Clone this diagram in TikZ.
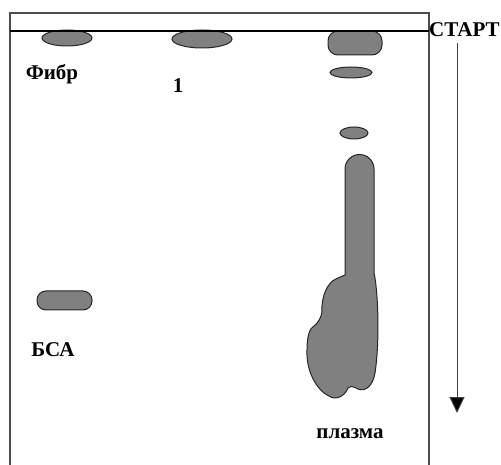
\documentclass[tikz,border=0pt]{standalone}
\usepackage{fontspec}
\setmainfont{Liberation Serif}
\usetikzlibrary{arrows.meta}
\begin{document}
\begin{tikzpicture}[x=1pt,y=-1pt,
  band/.style={fill=black!50,draw=black!85,line width=1pt},
  lbl/.style={font=\fontsize{21}{22}\selectfont\bfseries,inner sep=0pt}]
\useasboundingbox (0,0) rectangle (501,465);
% lanes
\draw[band] (67,38) ellipse [x radius=25,y radius=8];
\draw[band] (202,39) ellipse [x radius=30,y radius=9];
\draw[band,rounded corners=10pt] (328,31) rectangle (382,55);
\draw[band] (351,72.5) ellipse [x radius=21,y radius=5.5];
\draw[band] (354,133) ellipse [x radius=14,y radius=6];
\draw[band,rounded corners=9pt] (37,291) rectangle (92,310);
% plasma streak and smear
\draw[band] (345,275) -- (345,169) arc[start angle=180,end angle=360,radius=14.5]
  -- (374,273)
  .. controls (378,290) and (380,340) .. (375,373)
  .. controls (372,390) and (362,392) .. (356,388)
  .. controls (352,386) and (349,386) .. (348,388)
  .. controls (344,398) and (334,400) .. (329,396)
  .. controls (316,390) and (306,370) .. (307,350)
  .. controls (307,335) and (310,328) .. (314,326)
  .. controls (318,323) and (321,318) .. (322,312)
  .. controls (321,296) and (328,282) .. (336,279)
  .. controls (340,277) and (343,276) .. (345,275) -- cycle;
% frame and start line
\draw[black!70,line width=1.2pt] (10,465) -- (10,13) -- (429,13) -- (429,465);
\draw[line width=2pt] (10,31) -- (429,31);
% labels
\node[lbl] (fib) at (52,74) {Фибр};
\node[lbl] (one) at (178,86) {1};
\node[lbl] (bsa) at (53,350) {БСА};
\node[lbl] (pl) at (350,434) {плазма};
\node[lbl,anchor=west] (start) at (429,30) {СТАРТ};
% direction arrow
\coordinate (atop) at (457,43);
\coordinate (abot) at (457,413);
\draw[black!75,line width=1pt,-{Triangle[length=16pt,width=15pt,fill=black]}] (atop) -- (abot);
\end{tikzpicture}
\end{document}
